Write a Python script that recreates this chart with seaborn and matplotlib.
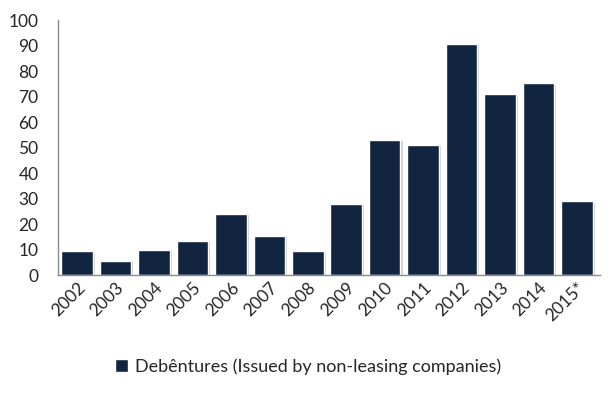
import matplotlib
matplotlib.use("Agg")
import matplotlib.pyplot as plt
import matplotlib.patheffects as pe
from matplotlib.patches import Patch
import pandas as pd
import seaborn as sns

years = ['2002', '2003', '2004', '2005', '2006', '2007', '2008', '2009',
         '2010', '2011', '2012', '2013', '2014', '2015*']
values = [9.4, 5.5, 9.8, 13.4, 24.0, 15.4, 9.4, 28.0,
          53.1, 51.2, 90.6, 70.9, 75.2, 29.1]
series_name = 'Debêntures (Issued by non-leasing companies)'

df = pd.DataFrame({'year': years, 'value': values})

sns.set_style('white')
plt.rcParams['font.family'] = ['Lato', 'DejaVu Sans']

navy = '#122540'
fig, ax = plt.subplots(figsize=(6.16, 3.93), dpi=100)
fig.subplots_adjust(left=0.094, right=0.974, bottom=0.30, top=0.949)

sns.barplot(data=df, x='year', y='value', color=navy, saturation=1,
            width=0.82, ax=ax)
# faint drop shadow like the original
for bar in ax.patches:
    bar.set_path_effects([pe.SimplePatchShadow(offset=(1.5, -1), shadow_rgbFace='#b0b0b0', alpha=0.6),
                          pe.Normal()])

ax.set_ylim(0, 100)
ax.set_yticks(range(0, 101, 10))
ax.set_xlim(-0.5, len(years) - 0.4)
ax.set_xlabel('')
ax.set_ylabel('')
ax.tick_params(axis='y', labelsize=12.5, length=0, pad=14)
ax.tick_params(axis='x', labelsize=12.5, length=0, pad=3)
plt.setp(ax.get_xticklabels(), rotation=45, ha='right', rotation_mode='anchor')

for side in ['top', 'right']:
    ax.spines[side].set_visible(False)
for side in ['left', 'bottom']:
    ax.spines[side].set_color('#8c8c8c')
    ax.spines[side].set_linewidth(1)

handles = [Patch(facecolor=navy, label=series_name)]
fig.legend(handles=handles, loc='center', bbox_to_anchor=(0.5, 0.068),
           frameon=False, fontsize=13, handlelength=0.7, handleheight=0.7,
           handletextpad=0.4)

plt.savefig('out.png', dpi=100)
